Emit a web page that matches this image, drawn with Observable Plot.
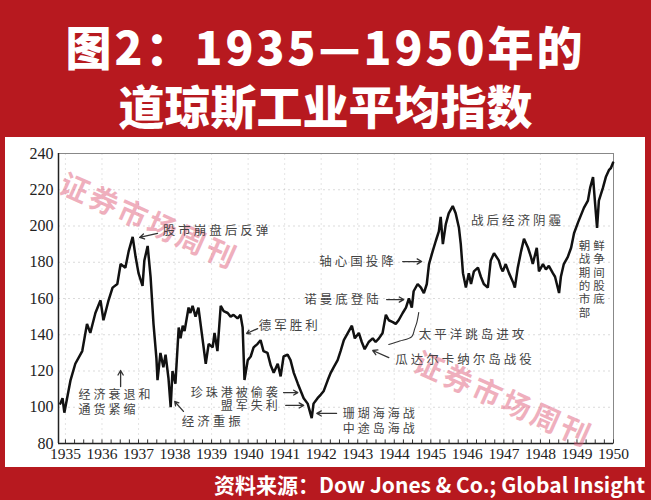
<!DOCTYPE html>
<html><head><meta charset="utf-8">
<script src="https://cdn.jsdelivr.net/npm/d3@7"></script>
<script src="https://cdn.jsdelivr.net/npm/@observablehq/plot@0.6"></script>
<style>
html,body{margin:0;padding:0;background:#b7191f;}
#page{position:relative;width:651px;height:500px;overflow:hidden;background:#b7191f;font-family:"Noto Sans CJK SC",sans-serif;}
.t{position:absolute;left:0;width:651px;text-align:center;color:#fff;font-weight:900;font-size:46px;line-height:46px;white-space:nowrap;}
#panel{position:absolute;left:5px;top:137px;width:640px;height:330px;background:#fff;}
#src{position:absolute;right:6px;top:471px;color:#fff;font-weight:700;font-size:21px;line-height:26px;white-space:nowrap;}
</style></head>
<body><div id="page">
<div class="t" style="top:22px;letter-spacing:3px">图2：1935—1950年的</div>
<div class="t" style="top:81px">道琼斯工业平均指数</div>
<div id="panel"></div>
<div id="src">资料来源：Dow Jones &amp; Co.; Global Insight</div>
</div>
<script>
// Axis tick labels
const years = [1935,1936,1937,1938,1939,1940,1941,1942,1943,1944,1945,1946,1947,1948,1949,1950];
const yTicks = [80,100,120,140,160,180,200,220,240];

// Dow Jones Industrial Average (x in the chart's year-axis units)
const dates = [
 1934.86,1934.92,1934.97,1935.14,1935.27,1935.46,1935.59,1935.68,1935.82,1935.96,
 1936.04,1936.18,1936.29,1936.42,1936.51,1936.64,1936.73,1936.84,1936.92,1937.00,
 1937.11,1937.16,1937.25,1937.33,1937.41,1937.49,1937.52,1937.60,1937.68,1937.74,
 1937.82,1937.88,1937.93,1938.01,1938.10,1938.15,1938.21,1938.26,1938.37,1938.42,
 1938.48,1938.56,1938.64,1938.75,1938.84,1938.92,1939.03,1939.08,1939.16,1939.25,
 1939.33,1939.44,1939.52,1939.60,1939.71,1939.79,1939.85,1939.90,1939.99,1940.07,
 1940.15,1940.26,1940.34,1940.42,1940.53,1940.62,1940.70,1940.81,1940.89,1940.97,
 1941.08,1941.16,1941.25,1941.36,1941.44,1941.52,1941.63,1941.74,1941.79,1941.90,
 1941.99,1942.07,1942.18,1942.26,1942.34,1942.45,1942.53,1942.62,1942.73,1942.84,
 1942.92,1943.03,1943.11,1943.19,1943.30,1943.41,1943.49,1943.58,1943.68,1943.77,
 1943.85,1943.96,1944.04,1944.12,1944.23,1944.32,1944.40,1944.48,1944.53,1944.64,
 1944.73,1944.81,1944.89,1944.95,1945.05,1945.14,1945.22,1945.27,1945.33,1945.41,
 1945.49,1945.60,1945.68,1945.77,1945.82,1945.88,1945.96,1946.04,1946.10,1946.18,
 1946.29,1946.37,1946.45,1946.56,1946.64,1946.73,1946.86,1946.92,1946.97,1947.05,
 1947.14,1947.25,1947.30,1947.38,1947.47,1947.55,1947.66,1947.74,1947.79,1947.90,
 1947.96,1948.07,1948.15,1948.23,1948.34,1948.40,1948.51,1948.56,1948.64,1948.75,
 1948.84,1948.92,1949.03,1949.11,1949.19,1949.30,1949.36,1949.44,1949.49,1949.55,
 1949.60,1949.71,1949.79,1949.88,1949.93,1949.99
];
const values = [
 102,105,97,115,124,131,146,141,152,159,
 148,159,166,168,179,177,186,194,183,174,
 167,181,189,172,146,127,115,130,122,129,
 116,100,120,113,144,138,145,142,155,152,
 156,150,155,138,124,135,133,141,131,156,
 153,152,150,151,149,151,144,115,126,128,
 133,135,137,131,130,123,119,124,117,128,
 129,126,119,113,109,105,102,94,102,105,
 107,109,115,119,122,126,131,137,141,145,
 138,141,136,132,136,138,136,138,141,151,
 148,147,146,148,152,155,160,155,164,168,
 166,163,168,179,186,192,197,205,190,201,
 207,211,207,199,190,174,166,174,168,175,
 177,172,168,166,181,185,181,177,175,179,
 174,169,166,177,186,193,188,183,179,188,
 175,179,176,178,174,172,163,172,179,183,
 188,196,202,206,210,214,221,227,214,199,
 214,221,227,231,232,235
];

// Annotations (text, anchor point in data units)
const notesStart = [
 {x:1937.66, y:197.0, text:"股市崩盘后反弹"},
 {x:1946.10, y:203.0, text:"战后经济阴霾"},
 {x:1944.67, y:139.6, text:"太平洋跳岛进攻"},
 {x:1944.03, y:125.8, text:"瓜达尔卡纳尔岛战役"},
 {x:1940.29, y:145.1, text:"德军胜利"},
 {x:1938.18, y:91.6, text:"经济重振"}
];
const notesStacked = [
 {x:1942.59, y:92.4, text:"珊瑚海海战\n中途岛海战"},
 {x:1935.36, y:102.9, text:"经济衰退和\n通货紧缩"}
];
const notesEnd = [
 {x:1944.07, y:180.4, text:"轴心国投降"},
 {x:1943.66, y:159.4, text:"诺曼底登陆"}
];
const notesEndStacked = [
 {x:1940.89, y:104.5, text:"珍珠港被偷袭\n盟军失利"}
];
const notesColumn = [
 {x:1949.05, y:170.8, text:"朝鲜\n战争\n期间\n的股\n市底\n部"}
];
const arrows = [
 {x1:1937.52, y1:195.9, x2:1937.03, y2:193.7},
 {x1:1944.23, y1:180.4, x2:1944.75, y2:180.4},
 {x1:1943.79, y1:159.4, x2:1944.26, y2:159.4},
 {x1:1943.85, y1:127.4, x2:1943.41, y2:131.3},
 {x1:1942.42, y1:96.6, x2:1941.88, y2:96.6},
 {x1:1940.26, y1:143.4, x2:1939.96, y2:140.7},
 {x1:1940.97, y1:108.1, x2:1941.36, y2:108.1},
 {x1:1941.03, y1:101.0, x2:1941.52, y2:101.0},
 {x1:1938.23, y1:97.7, x2:1937.99, y2:103.2},
 {x1:1936.51, y1:111.4, x2:1936.51, y2:120.3}
];
const brace = [
 {x:1944.67, y:152.3},{x:1944.62, y:147.0},{x:1944.56, y:143.4},
 {x:1944.48, y:139.0},{x:1944.15, y:136.5},{x:1943.85, y:134.6}
];
const watermarks = [
 {x:1937.27, y:202.0, text:"证券市场周刊"},
 {x:1946.97, y:103.7, text:"证券市场周刊"}
];

const xDomain = [1934.81, 1950];
const quarters = d3.range(0, 61).map(i => 1935 + i * 0.25);
const data = dates.map((d, i) => ({date: d, value: values[i]}));

const cjk = "Noto Sans CJK SC";
const noteStyle = {x: "x", y: "y", text: "text", fontFamily: cjk, fill: "#444"};
const chart = Plot.plot({
  width: 640, height: 330,
  marginLeft: 53, marginRight: 32, marginTop: 16, marginBottom: 24,
  style: {background: "transparent", fontFamily: "'Liberation Serif', serif", fontSize: "15.5px", color: "#222"},
  x: {domain: xDomain},
  y: {domain: [80, 240]},
  marks: [
    Plot.gridY(yTicks, {stroke: "#999", strokeOpacity: 0.35, strokeDasharray: "2,3"}),
    Plot.gridX(years, {stroke: "#999", strokeOpacity: 0.25, strokeDasharray: "2,3"}),
    Plot.frame({stroke: "#888", strokeWidth: 1}),
    Plot.axisY(yTicks, {tickSize: 0, tickPadding: 5, label: null, fill: "#222", fontSize: 16}),
    Plot.axisX(years, {tickSize: 0, tickPadding: 4, label: null, fill: "#222", tickFormat: d => String(d)}),
    Plot.ruleX(quarters, {y1: 80, y2: 82, stroke: "#333", strokeWidth: 1}),
    Plot.ruleY([80], {stroke: "#222", strokeWidth: 1.5}),
    Plot.ruleX([xDomain[0]], {stroke: "#222", strokeWidth: 1.5}),
    Plot.text(watermarks, {x: "x", y: "y", text: "text", rotate: 24, fontSize: 29, fontWeight: 700,
      fontFamily: cjk, fill: "#e0607c", fillOpacity: 0.5}),
    Plot.line(data, {x: "date", y: "value", stroke: "#111", strokeWidth: 2.5, strokeLinejoin: "miter"}),
    Plot.line(brace, {x: "x", y: "y", stroke: "#333", strokeWidth: 1.1, curve: "catmull-rom"}),
    Plot.arrow(arrows, {x1: "x1", y1: "y1", x2: "x2", y2: "y2", stroke: "#333", strokeWidth: 1.3, headLength: 6}),
    Plot.text(notesStart, {...noteStyle, textAnchor: "start", fontSize: 12.5}),
    Plot.text(notesStacked, {...noteStyle, textAnchor: "start", fontSize: 12, lineHeight: 1.2}),
    Plot.text(notesEnd, {...noteStyle, textAnchor: "end", fontSize: 12.5}),
    Plot.text(notesEndStacked, {...noteStyle, textAnchor: "end", fontSize: 12, lineHeight: 1.12}),
    Plot.text(notesColumn, {...noteStyle, textAnchor: "start", fontSize: 11.5, lineHeight: 1.17})
  ]
});
d3.select(chart).selectAll('g[aria-label="text"] text').style("letter-spacing", "3px");
document.getElementById("panel").appendChild(chart);
</script>
</body></html>
